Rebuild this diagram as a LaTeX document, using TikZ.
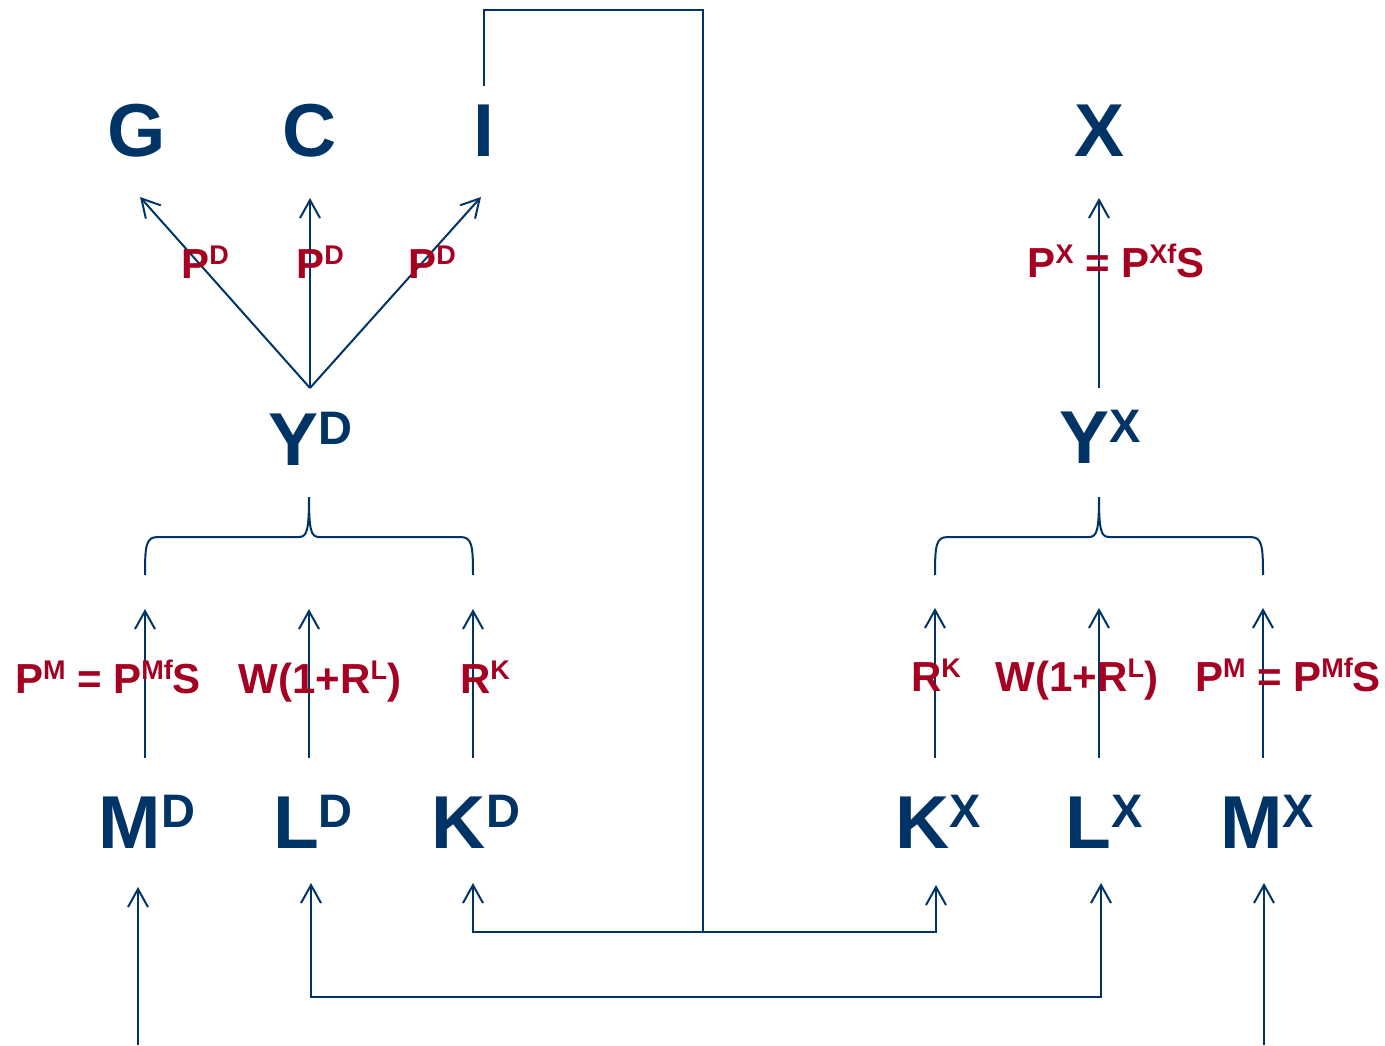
\documentclass[tikz,border=0pt]{standalone}
\usepackage{fontspec}
\setmainfont{Liberation Sans}
\usetikzlibrary{arrows.meta}
\definecolor{navy}{RGB}{0,51,102}
\definecolor{wine}{RGB}{165,0,33}
\newcommand{\bsup}[1]{\raisebox{21pt}{\fontsize{47}{47}\selectfont #1}}
\newcommand{\rsup}[1]{\raisebox{14pt}{\fontsize{27}{27}\selectfont #1}}
\tikzset{
  big/.style={anchor=base, inner sep=0pt, text=navy, font=\fontsize{75}{75}\selectfont\bfseries},
  lab/.style={anchor=base, inner sep=0pt, text=wine, font=\fontsize{42}{42}\selectfont\bfseries},
  conn/.style={draw=navy, line width=2pt},
  arr/.style={conn, -{Straight Barb[length=18pt,width=20pt]}},
  dblarr/.style={conn, {Straight Barb[length=18pt,width=20pt]}-{Straight Barb[length=18pt,width=20pt]}},
}
\begin{document}
\begin{tikzpicture}[x=1pt,y=-1pt]
\useasboundingbox (0,0) rectangle (1385,1045);
% coordinates for connector ends
\coordinate (ydtop) at (310,388);
\coordinate (gtip) at (140,197);
\coordinate (ctip) at (310,198);
\coordinate (itip) at (481,197);
\coordinate (yxtop) at (1099,388);
\coordinate (xtip) at (1099,198);
% left lower arrows
\coordinate (mdb) at (145,758); \coordinate (mdt) at (145,609);
\coordinate (ldb) at (309,758); \coordinate (ldt) at (309,609);
\coordinate (kdb) at (473,758); \coordinate (kdt) at (473,609);
% right lower arrows
\coordinate (kxb) at (935,758); \coordinate (kxt) at (935,608);
\coordinate (lxb) at (1099,758); \coordinate (lxt) at (1099,608);
\coordinate (mxb) at (1263,758); \coordinate (mxt) at (1263,608);
% factor connectors
\coordinate (itop) at (484,86);
\coordinate (c1) at (484,10);
\coordinate (c2) at (703,10);
\coordinate (junc) at (703,932);
\coordinate (kdcorner) at (473,932);
\coordinate (kdin) at (473,883);
\coordinate (kxcorner) at (936,932);
\coordinate (kxin) at (936,885);
\coordinate (ldin) at (311,883);
\coordinate (ldcorner) at (311,997);
\coordinate (lxcorner) at (1101,997);
\coordinate (lxin) at (1101,883);
\coordinate (mdsrc) at (138,1045);
\coordinate (mdin) at (138,887);
\coordinate (mxsrc) at (1264,1045);
\coordinate (mxin) at (1264,883);

% main nodes
\node[big] (G) at (137,156) {G};
\node[big] (C) at (310,156) {C};
\node[big] (I) at (484,156) {I};
\node[big] (X) at (1100,156) {X};
\node[big] (YD) at (310,465) {Y\bsup{D}};
\node[big] (YX) at (1100,463) {Y\bsup{X}};
\node[big] (MD) at (147,848) {M\bsup{D}};
\node[big] (LD) at (313,848) {L\bsup{D}};
\node[big] (KD) at (476,848) {K\bsup{D}};
\node[big] (KX) at (938,848) {K\bsup{X}};
\node[big] (LX) at (1104,848) {L\bsup{X}};
\node[big] (MX) at (1267,848) {M\bsup{X}};

% arrows from Y^D
\draw[arr] (ydtop) -- (gtip);
\draw[arr] (ydtop) -- (ctip);
\draw[arr] (ydtop) -- (itip);
\draw[arr] (yxtop) -- (xtip);

% price arrows
\draw[arr] (mdb) -- (mdt);
\draw[arr] (ldb) -- (ldt);
\draw[arr] (kdb) -- (kdt);
\draw[arr] (kxb) -- (kxt);
\draw[arr] (lxb) -- (lxt);
\draw[arr] (mxb) -- (mxt);

% braces
\draw[conn] (145,575) .. controls (145,545) and (146,537) .. (158,537) -- (299,537)
  .. controls (307,537) and (309,530) .. (309,497)
  .. controls (309,530) and (311,537) .. (319,537) -- (460,537)
  .. controls (472,537) and (473,545) .. (473,575);
\draw[conn] (935,575) .. controls (935,545) and (936,537) .. (948,537) -- (1089,537)
  .. controls (1097,537) and (1099,530) .. (1099,497)
  .. controls (1099,530) and (1101,537) .. (1109,537) -- (1250,537)
  .. controls (1262,537) and (1263,545) .. (1263,575);

% capital connector
\draw[conn] (itop) -- (c1) -- (c2) -- (junc);
\draw[arr] (junc) -- (kdcorner) -- (kdin);
\draw[arr] (junc) -- (kxcorner) -- (kxin);
% labour connector
\draw[dblarr] (ldin) -- (ldcorner) -- (lxcorner) -- (lxin);
% imports
\draw[arr] (mdsrc) -- (mdin);
\draw[arr] (mxsrc) -- (mxin);

% red labels
\node[lab] (p1) at (205,278) {P\rsup{D}};
\node[lab] (p2) at (320,278) {P\rsup{D}};
\node[lab] (p3) at (432,278) {P\rsup{D}};
\node[lab] (px) at (1116,277) {P\rsup{X} = P\rsup{Xf}S};
\node[lab] (pml) at (108,693) {P\rsup{M} = P\rsup{Mf}S};
\node[lab] (wl) at (320,693) {W(1+R\rsup{L})};
\node[lab] (rkl) at (485,693) {R\rsup{K}};
\node[lab] (rkr) at (936,691) {R\rsup{K}};
\node[lab] (wr) at (1077,691) {W(1+R\rsup{L})};
\node[lab] (pmr) at (1288,691) {P\rsup{M} = P\rsup{Mf}S};
\end{tikzpicture}
\end{document}
